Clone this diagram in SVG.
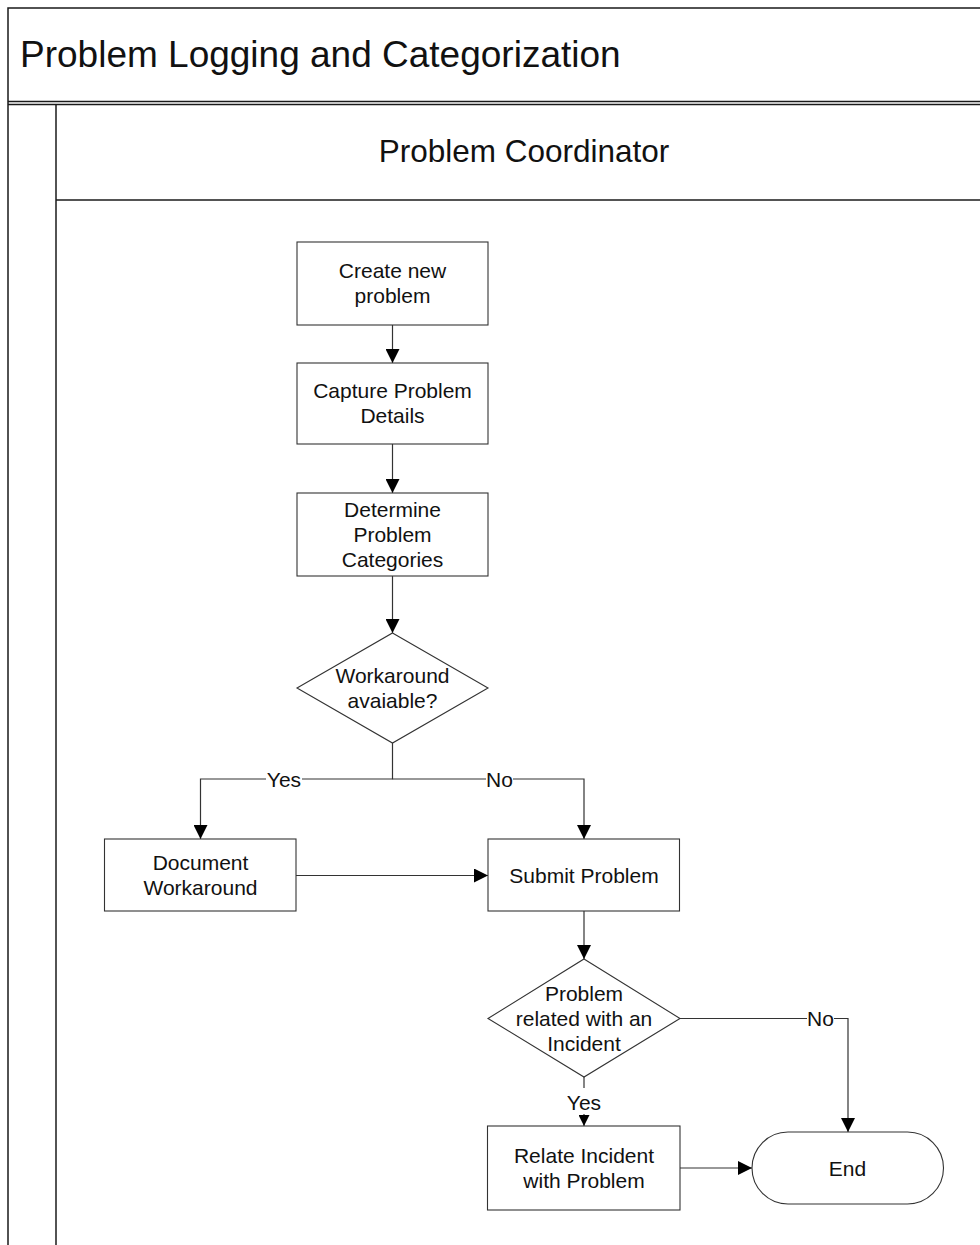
<svg xmlns="http://www.w3.org/2000/svg" width="980" height="1245" viewBox="0 0 980 1245">
  <style>
    .frame { fill: none; stroke: #1a1a1a; stroke-width: 1.5; }
    .shape { fill: #ffffff; stroke: #333333; stroke-width: 1.1; }
    .conn { fill: none; stroke: #333333; stroke-width: 1.2; }
    .txt { font-family: "Liberation Sans", Arial, sans-serif; font-size: 21px; fill: #111111; text-anchor: middle; }
    .title { font-family: "Liberation Sans", Arial, sans-serif; font-size: 37px; fill: #111111; }
    .lane { font-family: "Liberation Sans", Arial, sans-serif; font-size: 31.5px; fill: #111111; text-anchor: middle; }
    .lblbg { fill: #ffffff; stroke: none; }
  </style>
  <defs>
    <marker id="arrow" markerUnits="userSpaceOnUse" markerWidth="14" markerHeight="14" refX="14" refY="7" orient="auto">
      <path d="M0,0 L14,7 L0,14 z" fill="#000000"/>
    </marker>
    <marker id="arrowSmall" markerUnits="userSpaceOnUse" markerWidth="11" markerHeight="11" refX="11" refY="5.5" orient="auto">
      <path d="M0,0 L11,5.5 L0,11 z" fill="#000000"/>
    </marker>
  </defs>

  <rect x="0" y="0" width="980" height="1245" fill="#ffffff"/>

  <!-- pool and lane frame -->
  <g id="pool">
    <path class="frame" d="M8,1245 V8 H990"/>
    <line class="frame" x1="8" y1="101.5" x2="990" y2="101.5"/>
    <line class="frame" x1="8" y1="104.5" x2="990" y2="104.5"/>
    <line class="frame" x1="56" y1="104.5" x2="56" y2="1245"/>
    <line class="frame" x1="56" y1="200" x2="990" y2="200"/>
    <text class="title" x="20" y="67">Problem Logging and Categorization</text>
    <text class="lane" x="524" y="162">Problem Coordinator</text>
  </g>

  <!-- connectors -->
  <g id="connectors">
    <line class="conn" x1="392.5" y1="325" x2="392.5" y2="363" marker-end="url(#arrow)"/>
    <line class="conn" x1="392.5" y1="444" x2="392.5" y2="493" marker-end="url(#arrow)"/>
    <line class="conn" x1="392.5" y1="576" x2="392.5" y2="633" marker-end="url(#arrow)"/>
    <polyline class="conn" points="392.5,743 392.5,779 200.5,779 200.5,839" marker-end="url(#arrow)"/>
    <polyline class="conn" points="392.5,779 584,779 584,839" marker-end="url(#arrow)"/>
    <line class="conn" x1="296" y1="875.5" x2="488" y2="875.5" marker-end="url(#arrow)"/>
    <line class="conn" x1="584" y1="911" x2="584" y2="959" marker-end="url(#arrow)"/>
    <polyline class="conn" points="680,1018.5 848,1018.5 848,1132" marker-end="url(#arrow)"/>
    <line class="conn" x1="584" y1="1077" x2="584" y2="1088"/>
    <line class="conn" x1="584" y1="1114" x2="584" y2="1126" marker-end="url(#arrowSmall)"/>
    <line class="conn" x1="680" y1="1168" x2="752" y2="1168" marker-end="url(#arrow)"/>

    <!-- connector labels -->
    <rect class="lblbg" x="266" y="768" width="36" height="22"/>
    <text class="txt" x="284" y="786.5">Yes</text>
    <rect class="lblbg" x="486" y="768" width="27" height="22"/>
    <text class="txt" x="499.5" y="786.5">No</text>
    <rect class="lblbg" x="807" y="1007" width="27" height="22"/>
    <text class="txt" x="820.5" y="1025.5">No</text>
    <text class="txt" x="584" y="1109.5">Yes</text>
  </g>

  <!-- process steps -->
  <g id="create-problem">
    <rect class="shape" x="297" y="242" width="191" height="83"/>
    <text class="txt" x="392.5" y="277.5">Create new</text>
    <text class="txt" x="392.5" y="302.5">problem</text>
  </g>

  <g id="capture-details">
    <rect class="shape" x="297" y="363" width="191" height="81"/>
    <text class="txt" x="392.5" y="397.5">Capture Problem</text>
    <text class="txt" x="392.5" y="422.5">Details</text>
  </g>

  <g id="determine-categories">
    <rect class="shape" x="297" y="493" width="191" height="83"/>
    <text class="txt" x="392.5" y="516.5">Determine</text>
    <text class="txt" x="392.5" y="541.5">Problem</text>
    <text class="txt" x="392.5" y="566.5">Categories</text>
  </g>

  <g id="workaround-decision">
    <polygon class="shape" points="392.5,633 488,688 392.5,743 297,688"/>
    <text class="txt" x="392.5" y="682.5">Workaround</text>
    <text class="txt" x="392.5" y="707.5">avaiable?</text>
  </g>

  <g id="document-workaround">
    <rect class="shape" x="104.5" y="839" width="191.5" height="72"/>
    <text class="txt" x="200.5" y="869.5">Document</text>
    <text class="txt" x="200.5" y="894.5">Workaround</text>
  </g>

  <g id="submit-problem">
    <rect class="shape" x="488" y="839" width="191.5" height="72"/>
    <text class="txt" x="584" y="882.5">Submit Problem</text>
  </g>

  <g id="incident-decision">
    <polygon class="shape" points="584,959 680,1018.5 584,1077 488,1018.5"/>
    <text class="txt" x="584" y="1000.5">Problem</text>
    <text class="txt" x="584" y="1025.5">related with an</text>
    <text class="txt" x="584" y="1050.5">Incident</text>
  </g>

  <g id="relate-incident">
    <rect class="shape" x="487.5" y="1126" width="192.5" height="84"/>
    <text class="txt" x="584" y="1162.5">Relate Incident</text>
    <text class="txt" x="584" y="1187.5">with Problem</text>
  </g>

  <g id="end">
    <rect class="shape" x="752" y="1132" width="191.5" height="72" rx="36" ry="36"/>
    <text class="txt" x="847.5" y="1175.5">End</text>
  </g>
</svg>
